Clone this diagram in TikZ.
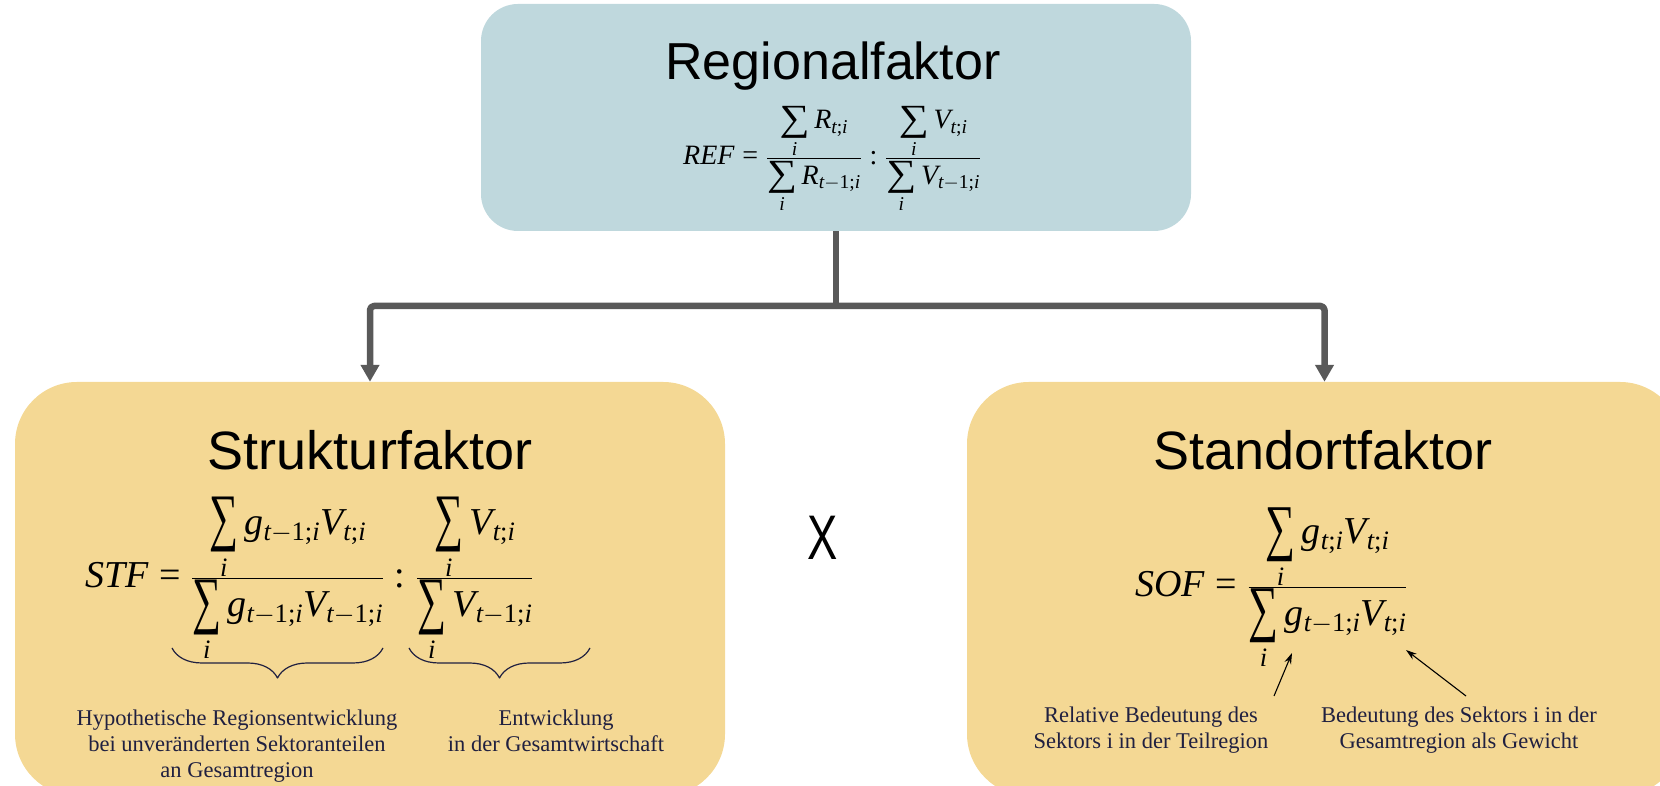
\RequirePackage{fix-cm}
\documentclass[tikz,border=0pt]{standalone}
\usepackage{graphicx}
\usepackage[no-math]{fontspec}
\newfontfamily\titlefont{Liberation Sans}
\newfontfamily\kreuzfont[FakeStretch=0.72]{Liberation Sans}
\newfontfamily\notefont[NFSSFamily=libserif]{Liberation Serif}
% Times-like letters and digits in the formulas
\DeclareSymbolFont{letters}{TU}{libserif}{m}{it}
\DeclareSymbolFont{operators}{TU}{libserif}{m}{n}
% sum over i: width, height of the sign, strut for the index
\newcommand{\summe}[3]{\mathop{\vcenter{\hbox{\resizebox*{#1}{#2}{\notefont ∑}}}}\limits_{\rule{0pt}{#3}i}}
\usetikzlibrary{arrows.meta,decorations.pathreplacing}

\definecolor{blaugrau}{RGB}{191,216,221}
\definecolor{sand}{RGB}{244,216,148}
\definecolor{pfeilgrau}{RGB}{89,89,89}
\definecolor{tinte}{RGB}{32,32,64}

\begin{document}
\begin{tikzpicture}[x=1pt, y=1pt, line join=round, >=Latex]
\tikzset{box/.style={inner sep=0pt, draw=none},
  titel/.style={inner sep=0pt, anchor=base, font=\titlefont\fontsize{54}{58}\selectfont},
  formel/.style={inner sep=0pt, anchor=base west},
  notiz/.style={inner sep=0pt, anchor=north, align=center, text=tinte,
    font=\notefont\fontsize{22.5}{26}\selectfont},
  verbinder/.style={draw=pfeilgrau, line width=6.5pt, rounded corners=4pt},
  pfeilspitze/.style={-{Triangle[width=18pt,length=17pt]}},
  klammer/.style={draw=tinte, line width=1.2pt, decorate,
    decoration={brace, mirror, amplitude=30pt}},
  hinweis/.style={draw=black, line width=1.1pt, -{Stealth[length=11pt,width=7pt]}}}

\useasboundingbox (0,0) rectangle (1660,786);

% boxes
\node[box, fill=blaugrau, rounded corners=37pt, minimum width=710pt, minimum height=227pt] (reg) at (836,668.5) {};
\node[box, fill=sand, rounded corners=62pt, minimum width=710pt, minimum height=414pt] (struk) at (370,197) {};
\node[box, fill=sand, rounded corners=62pt, minimum width=715pt, minimum height=414pt] (stand) at (1324.5,197) {};

% connectors
\coordinate (hub) at (836,480);
\draw[verbinder] (reg.south) -- (hub);
\draw[verbinder, pfeilspitze] (hub) -| (struk.north);
\draw[verbinder, pfeilspitze] (hub) -| (stand.north);

% titles
\node[titel, font=\titlefont\fontsize{52}{56}\selectfont] (regtitel) at (833,706.5) {Regionalfaktor};
\node[titel] (struktitel) at (370,316) {Strukturfaktor};
\node[titel] (standtitel) at (1323,316) {Standortfaktor};

% formulas
\node[formel, font=\fontsize{28}{30}\selectfont] (refformel) at (683,621)
  {$\displaystyle REF=\frac{\summe{30pt}{32pt}{16pt} R_{t;i}}{\summe{30pt}{32pt}{16pt} R_{t-1;i}}:\frac{\summe{30pt}{32pt}{16pt} V_{t;i}}{\summe{30pt}{32pt}{16pt} V_{t-1;i}}$};
\node[formel, font=\fontsize{38}{42}\selectfont] (stfformel) at (85,198)
  {$\displaystyle STF=\frac{\summe{29pt}{55pt}{22pt} g_{t-1;i}V_{t;i}}{\summe{29pt}{55pt}{22pt} g_{t-1;i}V_{t-1;i}}:\frac{\summe{29pt}{55pt}{22pt} V_{t;i}}{\summe{29pt}{55pt}{22pt} V_{t-1;i}}$};
\node[formel, font=\fontsize{38}{42}\selectfont] (sofformel) at (1135,189)
  {$\displaystyle SOF=\frac{\summe{30pt}{54pt}{22pt} g_{t;i}V_{t;i}}{\summe{30pt}{54pt}{22pt} g_{t-1;i}V_{t;i}}$};

% multiplication sign
\node[inner sep=0pt, font=\kreuzfont\fontsize{63}{63}\selectfont] (mal) at (823,248.5) {X};

% braces under the STF fractions
\coordinate (k1a) at (172,138);
\coordinate (k1b) at (383,138);
\coordinate (k2a) at (409,138);
\coordinate (k2b) at (590,138);
\draw[klammer] (k1a) -- (k1b);
\draw[klammer] (k2a) -- (k2b);

% notes
\node[notiz] (hypo) at (237,76) {Hypothetische Regionsentwicklung\\bei unveränderten Sektoranteilen\\an Gesamtregion};
\node[notiz] (entw) at (556,76) {Entwicklung\\in der Gesamtwirtschaft};
\node[notiz] (relbed) at (1151,79) {Relative Bedeutung des\\Sektors i in der Teilregion};
\node[notiz] (gewicht) at (1459,79) {Bedeutung des Sektors i in der\\Gesamtregion als Gewicht};

% pointers to the SOF terms
\coordinate (p1) at (1274,90);
\coordinate (q1) at (1292,133);
\coordinate (p2) at (1466,90);
\coordinate (q2) at (1406,136);
\draw[hinweis] (p1) -- (q1);
\draw[hinweis] (p2) -- (q2);
\end{tikzpicture}
\end{document}
